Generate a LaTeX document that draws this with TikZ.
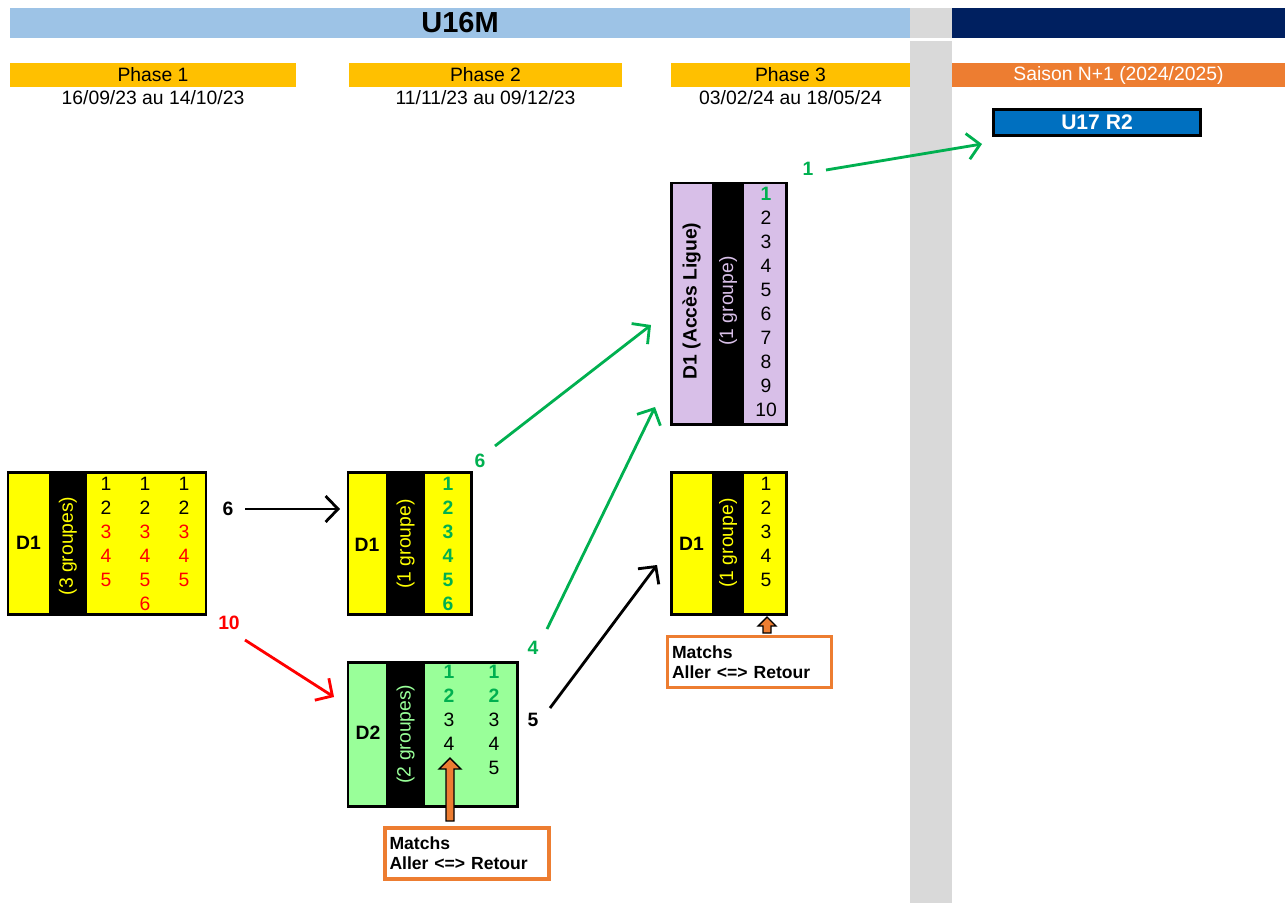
\documentclass[tikz,border=0pt]{standalone}
\usepackage{fontspec}
\setmainfont{Liberation Sans}
\usepackage{tikz}
\usetikzlibrary{arrows.meta,positioning,calc}

\definecolor{TitleBlue}{HTML}{9DC3E6}
\definecolor{Navy}{HTML}{002060}
\definecolor{ColGray}{HTML}{D9D9D9}
\definecolor{PhaseGold}{HTML}{FFC000}
\definecolor{Orange}{HTML}{ED7D31}
\definecolor{RegBlue}{HTML}{0070C0}
\definecolor{Yel}{HTML}{FFFF00}
\definecolor{LGreen}{HTML}{99FF99}
\definecolor{Lilac}{HTML}{D8BFE8}
\definecolor{Green}{HTML}{00B050}
\definecolor{Red}{HTML}{FF0000}

\begin{document}
\begin{tikzpicture}[x=0.2mm,y=-0.2mm,
	every node/.style={inner sep=0pt, font=\fontsize{11}{12}\selectfont},
	frame/.style={draw=black, line width=1.7pt},
	head/.style={font=\fontsize{11}{13}\selectfont},
	phase/.style={
		head,
		fill=PhaseGold,
		minimum height=4.8mm
	},
	bold/.style={font=\fontsize{11}{12}\selectfont\bfseries},
	lbl/.style={font=\fontsize{11}{13}\selectfont\bfseries},
	flow/.style={line width=1.6pt, -{Straight Barb[length=2.5mm,width=5.2mm]}},
	pointer/.style={fill=Orange, draw=black, line width=0.8pt},
	matchbox/.style={
		draw=Orange,
		line width=2pt,
		fill=white,
		align=left,
		inner xsep=0.9mm,
		text width=31mm,
		minimum height=10.2mm,
		font=\fontsize{10}{11.5}\selectfont\bfseries
	},
	]
	\useasboundingbox (0,0) rectangle (1285,903);
	
	% bandeaux
	\fill[TitleBlue] (10,8) rectangle (910,38);
	\fill[ColGray] (910,8) rectangle (952,38);
	\fill[ColGray] (910,41) rectangle (952,903);
	\fill[Navy] (952,8) rectangle (1285,38);
	\node[font=\fontsize{16.5}{18}\selectfont\bfseries] (U16) at (460,23) {U16M};
	
	\node[phase, minimum width=57.2mm] (ph1) at (153,75) {Phase 1};
	\node[phase, minimum width=54.6mm] (ph2) at (485.5,75) {Phase 2};
	\node[phase, minimum width=47.8mm] (ph3) at (790.5,75) {Phase 3};
	\node[phase, fill=Orange, text=white, minimum width=66.6mm] (ph4) at (1118.5,75) {Saison N+1 (2024/2025)};
	\node[head, below=0.6mm of ph1] (d1) {16/09/23 au 14/10/23};
	\node[head, below=0.6mm of ph2] (d2) {11/11/23 au 09/12/23};
	\node[head, below=0.6mm of ph3] (d3) {03/02/24 au 18/05/24};
	
	\node[fill=RegBlue, draw=black, line width=1.7pt, text=white, minimum width=41.4mm,
		minimum height=5.1mm, font=\fontsize{12}{14}\selectfont\bfseries] (R2) at (1097,122.5) {U17 R2};
	
	% phase 1 : D1 (3 groupes)
	\fill[Yel] (8,472) rectangle (206,614);
	\fill[black] (49,472) rectangle (87,614);
	\draw[frame] (8,472) rectangle (206,614);
	\node[bold] (A) at (28.5,543) {D1};
	\node[rotate=90, text=Yel] (Ag) at (68,546) {(3 groupes)};
	\foreach \x [count=\c] in {106,145,184} {
		\foreach \n in {1,2}
			\node[name=A\c\n] at (\x,460+24*\n) {\n};
		\foreach \n in {3,4,5}
			\node[text=Red, name=A\c\n] at (\x,460+24*\n) {\n};
	}
	\node[text=Red] (A26) at (145,604) {6};
	
	% phase 2 : D1 (1 groupe)
	\fill[Yel] (348,472) rectangle (471,614);
	\fill[black] (386,472) rectangle (425,614);
	\draw[frame] (348,472) rectangle (471,614);
	\node[bold] (B) at (367,545) {D1};
	\node[rotate=90, text=Yel] (Bg) at (405.5,544) {(1 groupe)};
	\foreach \n in {1,...,6}
		\node[bold, text=Green, name=B\n] at (448,460+24*\n) {\n};
	
	% phase 2 : D2 (2 groupes)
	\fill[LGreen] (348,662) rectangle (517,806);
	\fill[black] (386,662) rectangle (425,806);
	\draw[frame] (348,662) rectangle (517,806);
	\node[bold] (C) at (368,733) {D2};
	\node[rotate=90, text=LGreen] (Cg) at (405.5,734) {(2 groupes)};
	\foreach \x [count=\c] in {449,494} {
		\foreach \n in {1,2}
			\node[bold, text=Green, name=C\c\n] at (\x,648+24*\n) {\n};
		\node[name=C\c3] at (\x,720) {3};
		\node[name=C\c4] at (\x,744) {4};
	}
	\node (C25) at (494,768) {5};
	\draw[pointer] (446,821) -- (446,769) -- (439,769) -- (450,758) -- (461,769)
		-- (454,769) -- (454,821) -- cycle;
	\node[matchbox] (MC) at (467,853.5) {Matchs\\Aller <=> Retour};
	
	% phase 3 : D1 (Acces Ligue)
	\fill[Lilac] (671,183) rectangle (786,424);
	\fill[black] (712,183) rectangle (744,424);
	\draw[frame] (671,183) rectangle (786,424);
	\node[bold, rotate=90] (D) at (691.5,301) {D1 (Accès Ligue)};
	\node[rotate=90, text=Lilac] (Dg) at (728,301) {(1 groupe)};
	\node[bold, text=Green] (D1) at (766,194) {1};
	\foreach \n in {2,...,10}
		\node[name=D\n] at (766,170+24*\n) {\n};
	
	% phase 3 : D1 (1 groupe)
	\fill[Yel] (671,472) rectangle (786,614);
	\fill[black] (712,472) rectangle (744,614);
	\draw[frame] (671,472) rectangle (786,614);
	\node[bold] (E) at (691.5,544) {D1};
	\node[rotate=90, text=Yel] (Eg) at (728,543) {(1 groupe)};
	\foreach \n in {1,...,5}
		\node[name=E\n] at (766,460+24*\n) {\n};
	\draw[pointer] (763,633) -- (763,626) -- (758,626) -- (767,617) -- (776,626)
		-- (771,626) -- (771,633) -- cycle;
	\node[matchbox] (ME) at (749.5,662) {Matchs\\Aller <=> Retour};
	
	% montees / descentes
	\node[lbl] (n6) at (228,509) {6};
	\coordinate (s6) at (245,509);
	\coordinate (t6) at (340,509);
	\draw[flow] (s6) -- (t6);
	
	\node[lbl, text=Red] (n10) at (229,623) {10};
	\coordinate (s10) at (245,640);
	\coordinate (t10) at (334,697);
	\draw[flow, Red] (s10) -- (t10);
	
	\node[lbl, text=Green] (m6) at (480,461) {6};
	\coordinate (sm6) at (495,446);
	\coordinate (tm6) at (651,325);
	\draw[flow, Green] (sm6) -- (tm6);
	
	\node[lbl, text=Green] (m4) at (533,648) {4};
	\coordinate (sm4) at (547,629);
	\coordinate (tm4) at (655,407);
	\draw[flow, Green] (sm4) -- (tm4);
	
	\node[lbl] (m5) at (533,720) {5};
	\coordinate (sm5) at (550,708);
	\coordinate (tm5) at (657,565);
	\draw[flow] (sm5) -- (tm5);
	
	\node[lbl, text=Green] (m1) at (808,169) {1};
	\coordinate (sm1) at (826,170);
	\coordinate (tm1) at (982,144);
	\draw[flow, Green] (sm1) -- (tm1);
\end{tikzpicture}
\end{document}
